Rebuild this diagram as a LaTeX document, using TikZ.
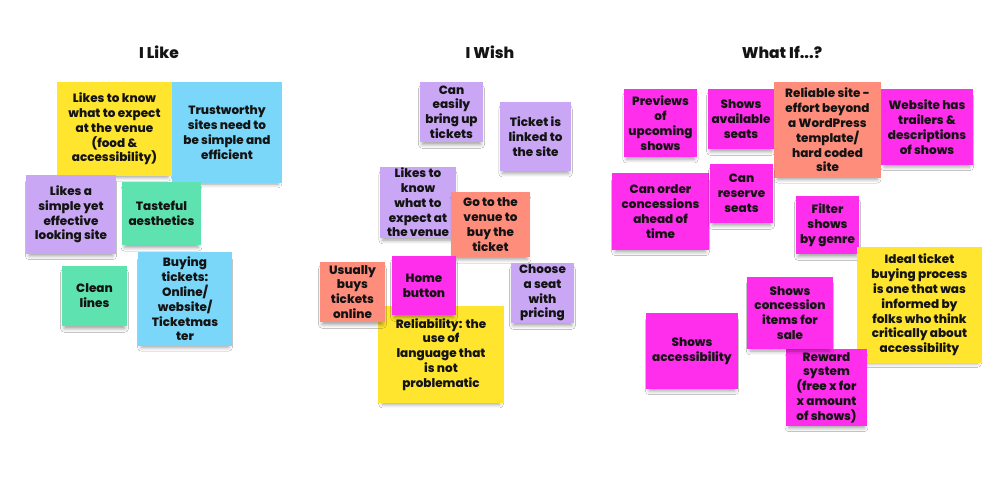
\documentclass[tikz,border=0pt]{standalone}
\usepackage{fontspec}
\setmainfont{Poppins}[BoldFont={Poppins ExtraBold}]
\usetikzlibrary{shadows.blur}
\definecolor{nyellow}{RGB}{255,229,46}
\definecolor{nblue}{RGB}{122,215,250}
\definecolor{npurple}{RGB}{201,167,245}
\definecolor{ngreen}{RGB}{94,226,176}
\definecolor{nsalmon}{RGB}{255,141,124}
\definecolor{nmagenta}{RGB}{255,45,236}
\definecolor{ink}{RGB}{20,20,20}
\tikzset{
  note/.style={rectangle, inner sep=1pt, align=center, text=ink,
    font=\bfseries\fontsize{12}{14.8}\selectfont,
    blur shadow={shadow xshift=0pt, shadow yshift=-5pt, shadow scale=0.93,
      shadow blur radius=4pt, shadow opacity=38}},
  title/.style={font=\bfseries\fontsize{15.5}{18}\selectfont, text=ink},
  sz/.style 2 args={minimum width=#1pt, minimum height=#2pt}
}
\begin{document}
\begin{tikzpicture}[x=1pt,y=-1pt]
\useasboundingbox[fill=white] (0,0) rectangle (1002,502);
% titles
\node[title] (t1) at (159,52) {I Like};
\node[title] (t2) at (490,52) {I Wish};
\node[title] (t3) at (782,52) {What If...?};
% I Like
\node[note, fill=nyellow, sz={115}{94}] (l1) at (114.5,129) {Likes to know\\what to expect\\at the venue\\(food \&\\accessibility)};
\node[note, fill=nblue, sz={110}{101}] (l2) at (227,132.5) {Trustworthy\\sites need to\\be simple and\\efficient};
\node[note, fill=npurple, sz={90}{79}] (l3) at (71,214.5) {Likes a\\simple yet\\effective\\looking site};
\node[note, fill=ngreen, sz={79}{63}] (l4) at (161.5,213.5) {Tasteful\\aesthetics};
\node[note, fill=ngreen, sz={65}{60}] (l5) at (94.5,296) {Clean\\lines};
\node[note, fill=nblue, sz={94}{94}] (l6) at (185,299) {Buying\\tickets:\\Online/\\website/\\Ticketmas\\ter};
% I Wish
\node[note, fill=npurple, sz={63}{60}] (m1) at (451.5,112) {Can\\easily\\bring up\\tickets};
\node[note, fill=npurple, sz={71}{69}] (m2) at (535.5,136.5) {Ticket is\\linked to\\the site};
\node[note, fill=npurple, sz={76}{71}] (m3) at (418,202.5) {Likes to\\know\\what to\\expect at\\the venue};
\node[note, fill=nsalmon, sz={79}{65}] (m4) at (490.5,224.5) {Go to the\\venue to\\buy the\\ticket};
\node[note, fill=nyellow, sz={126}{97}] (m8) at (441,354.5) {Reliability: the\\use of\\language that\\is not\\problematic};
\node[note, fill=nsalmon, sz={65}{60}] (m5) at (352.5,292) {Usually\\buys\\tickets\\online};
\node[note, fill=nmagenta, sz={64}{59}] (m6) at (424,285.5) {Home\\button};
\node[note, fill=npurple, sz={63}{60}] (m7) at (542.5,293) {Choose\\a seat\\with\\pricing};
% What If
\node[note, fill=nmagenta, sz={73}{68}] (r1) at (660.5,123) {Previews\\of\\upcoming\\shows};
\node[note, fill=nmagenta, sz={66}{60}] (r2) at (741,119) {Shows\\available\\seats};
\node[note, fill=nmagenta, sz={92}{76}] (r4) at (927,127) {Website has\\trailers \&\\descriptions\\of shows};
\node[note, fill=nsalmon, sz={107}{96}] (r3) at (827.5,130) {Reliable site -\\effort beyond\\a WordPress\\template/\\hard coded\\site};
\node[note, fill=nmagenta, sz={97}{77}] (r5) at (660.5,211.5) {Can order\\concessions\\ahead of\\time};
\node[note, fill=nmagenta, sz={63}{59}] (r6) at (741.5,193.5) {Can\\reserve\\seats};
\node[note, fill=nmagenta, sz={63}{58}] (r7) at (827.5,225) {Filter\\shows\\by genre};
\node[note, fill=nyellow, sz={125}{116}] (r8) at (919.5,305) {Ideal ticket\\buying process\\is one that was\\informed by\\folks who think\\critically about\\accessibility};
\node[note, fill=nmagenta, sz={92}{76}] (r10) at (692,351) {Shows\\accessibility};
\node[note, fill=nmagenta, sz={81}{77}] (r11) at (826.5,387.5) {Reward\\system\\(free x for\\x amount\\of shows)};
\node[note, fill=nmagenta, sz={86}{72}] (r9) at (790,313) {Shows\\concession\\items for\\sale};
\end{tikzpicture}
\end{document}
